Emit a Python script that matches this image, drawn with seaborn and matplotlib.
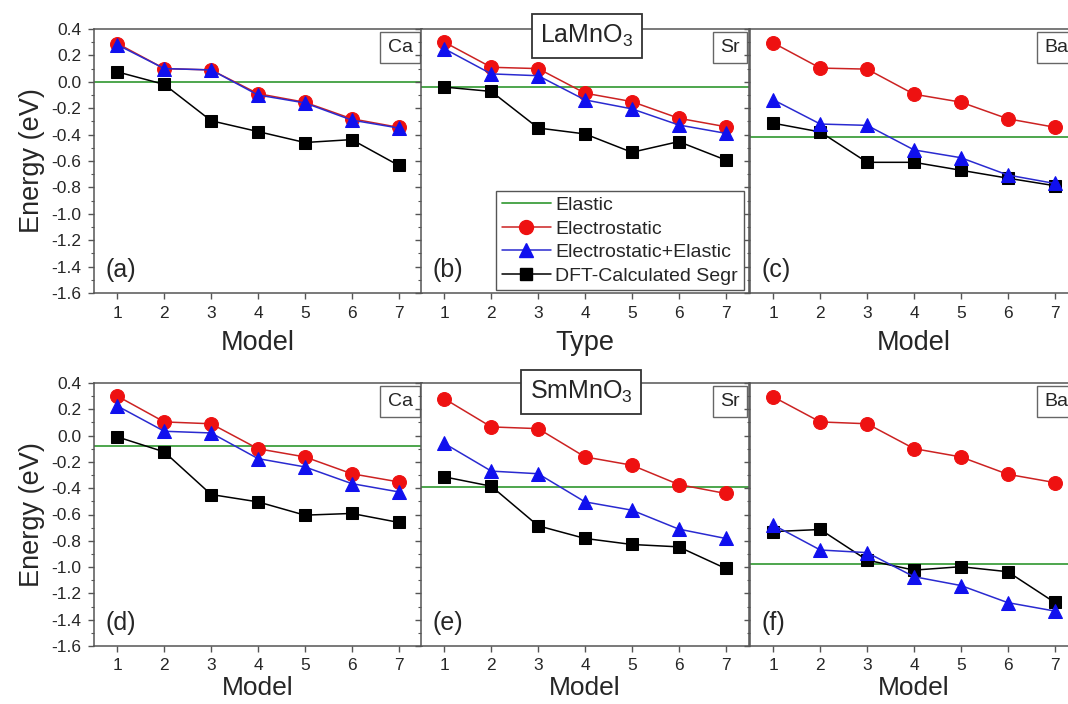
import numpy as np
import pandas as pd
import matplotlib
matplotlib.use("Agg")
import matplotlib.pyplot as plt
from matplotlib.lines import Line2D
from matplotlib.ticker import MultipleLocator, FormatStrFormatter
import seaborn as sns

# ---------------- data ----------------
models = [1, 2, 3, 4, 5, 6, 7]
series_names = ["Elastic", "Electrostatic", "Electrostatic+Elastic", "DFT-Calculated Segr"]

# LaMnO3
la_ca_elastic = 0.0
la_ca_electrostatic = [0.29, 0.10, 0.09, -0.09, -0.155, -0.28, -0.345]
la_ca_elec_elastic = [0.28, 0.10, 0.09, -0.10, -0.16, -0.29, -0.35]
la_ca_dft = [0.075, -0.02, -0.295, -0.377, -0.46, -0.438, -0.633]

la_sr_elastic = -0.04
la_sr_electrostatic = [0.30, 0.11, 0.10, -0.086, -0.15, -0.276, -0.34]
la_sr_elec_elastic = [0.25, 0.06, 0.046, -0.137, -0.205, -0.327, -0.39]
la_sr_dft = [-0.04, -0.073, -0.35, -0.395, -0.534, -0.453, -0.592]

la_ba_elastic = -0.42
la_ba_electrostatic = [0.294, 0.104, 0.096, -0.094, -0.154, -0.28, -0.344]
la_ba_elec_elastic = [-0.137, -0.32, -0.33, -0.516, -0.575, -0.706, -0.77]
la_ba_dft = [-0.314, -0.38, -0.61, -0.61, -0.67, -0.73, -0.787]

# SmMnO3
sm_ca_elastic = -0.08
sm_ca_electrostatic = [0.30, 0.104, 0.09, -0.10, -0.162, -0.29, -0.352]
sm_ca_elec_elastic = [0.225, 0.033, 0.02, -0.175, -0.238, -0.365, -0.428]
sm_ca_dft = [-0.01, -0.124, -0.448, -0.504, -0.605, -0.592, -0.66]

sm_sr_elastic = -0.392
sm_sr_electrostatic = [0.28, 0.066, 0.053, -0.162, -0.225, -0.372, -0.44]
sm_sr_elec_elastic = [-0.06, -0.27, -0.29, -0.504, -0.567, -0.711, -0.782]
sm_sr_dft = [-0.314, -0.385, -0.686, -0.782, -0.828, -0.846, -1.01]

sm_ba_elastic = -0.98
sm_ba_electrostatic = [0.294, 0.104, 0.09, -0.099, -0.162, -0.294, -0.357]
sm_ba_elec_elastic = [-0.68, -0.87, -0.89, -1.073, -1.14, -1.27, -1.334]
sm_ba_dft = [-0.73, -0.714, -0.947, -1.023, -0.997, -1.035, -1.268]

panel_letters = ["(a)", "(b)", "(c)", "(d)", "(e)", "(f)"]
dopants = ["Ca", "Sr", "Ba", "Ca", "Sr", "Ba"]
xlabels = ["Model", "Type", "Model", "Model", "Model", "Model"]
hosts = ["LaMnO$_3$", "SmMnO$_3$"]

panels = [
    (la_ca_elastic, la_ca_electrostatic, la_ca_elec_elastic, la_ca_dft),
    (la_sr_elastic, la_sr_electrostatic, la_sr_elec_elastic, la_sr_dft),
    (la_ba_elastic, la_ba_electrostatic, la_ba_elec_elastic, la_ba_dft),
    (sm_ca_elastic, sm_ca_electrostatic, sm_ca_elec_elastic, sm_ca_dft),
    (sm_sr_elastic, sm_sr_electrostatic, sm_sr_elec_elastic, sm_sr_dft),
    (sm_ba_elastic, sm_ba_electrostatic, sm_ba_elec_elastic, sm_ba_dft),
]

# ---------------- style ----------------
sns.set_style("ticks")
plt.rcParams["font.family"] = ["Liberation Sans", "DejaVu Sans"]
plt.rcParams["axes.unicode_minus"] = False
plt.rcParams["mathtext.fontset"] = "custom"
plt.rcParams["mathtext.rm"] = "Liberation Sans"

GREEN = "#3f9f3f"
RED = "#ee1111"
RED_LINE = "#cc2222"
BLUE = "#1010ee"
BLUE_LINE = "#2a2ad0"
BLACK = "#000000"
SPINE = "#555555"

MS_CIRC, MS_TRI, MS_SQ = 10, 10.5, 8.5

fig = plt.figure(figsize=(10.68, 7.04), dpi=100)

W, H = 1068.0, 704.0
lefts_px = [94, 421, 750]
width_px = 328
rows = [(29, 293), (383, 646)]

axes = []
for r, (top, bot) in enumerate(rows):
    for c, lp in enumerate(lefts_px):
        ax = fig.add_axes([lp / W, 1 - bot / H, width_px / W, (bot - top) / H])
        axes.append(ax)

for i, ax in enumerate(axes):
    el, es, ese, dft = panels[i]
    ax.axhline(el, color=GREEN, lw=1.3, zorder=1)
    sns.lineplot(x=models, y=dft, ax=ax, color=BLACK, marker="s", markersize=MS_SQ,
                 markeredgecolor=BLACK, lw=1.1, zorder=2)
    sns.lineplot(x=models, y=es, ax=ax, color=RED_LINE, marker="o", markersize=MS_CIRC,
                 markerfacecolor=RED, markeredgecolor=RED, lw=1.1, zorder=3)
    sns.lineplot(x=models, y=ese, ax=ax, color=BLUE_LINE, marker="^", markersize=MS_TRI,
                 markerfacecolor=BLUE, markeredgecolor=BLUE, lw=1.1, zorder=4)

    ax.set_xlim(0.5, 7.5)
    ax.set_ylim(-1.6, 0.4)
    ax.set_xticks(models)
    ax.yaxis.set_major_locator(MultipleLocator(0.2))
    ax.yaxis.set_minor_locator(MultipleLocator(0.1))
    ax.yaxis.set_major_formatter(FormatStrFormatter("%.1f"))
    ax.tick_params(axis="both", which="major", direction="out", length=4, width=1,
                   color=SPINE, labelsize=12.5, pad=5)
    ax.tick_params(axis="y", which="minor", direction="out", length=2.5, width=0.8, color=SPINE)
    for sp in ax.spines.values():
        sp.set_color(SPINE)
        sp.set_linewidth(1.1)
    if i % 3 != 0:
        ax.tick_params(axis="y", which="both", labelleft=False)
        ax.set_ylabel("")
    else:
        ax.set_ylabel("Energy (eV)", fontsize=19.5, labelpad=5)
    if i < 3:
        ax.set_xlabel(xlabels[i], fontsize=19.5, labelpad=7)
    else:
        ax.set_xlabel(xlabels[i], fontsize=19, labelpad=2)

    ax.text(0.035, 0.04, panel_letters[i], transform=ax.transAxes, fontsize=18,
            ha="left", va="bottom")
    ax.text(0.972, 0.962, dopants[i], transform=ax.transAxes, fontsize=14,
            ha="right", va="top",
            bbox=dict(boxstyle="square,pad=0.38", fc="white", ec="#666666", lw=1.0))

# host labels
fig.text(587 / W, 1 - 36 / H, hosts[0], fontsize=18, ha="center", va="center",
         bbox=dict(boxstyle="square,pad=0.35", fc="white", ec="#333333", lw=1.3))
fig.text(581 / W, 1 - 392 / H, hosts[1], fontsize=18, ha="center", va="center",
         bbox=dict(boxstyle="square,pad=0.35", fc="white", ec="#333333", lw=1.3))

# legend in panel (b)
handles = [
    Line2D([], [], color=GREEN, lw=1.3),
    Line2D([], [], color=RED_LINE, lw=1.1, marker="o", markersize=MS_CIRC,
           markerfacecolor=RED, markeredgecolor=RED),
    Line2D([], [], color=BLUE_LINE, lw=1.1, marker="^", markersize=MS_TRI,
           markerfacecolor=BLUE, markeredgecolor=BLUE),
    Line2D([], [], color=BLACK, lw=1.1, marker="s", markersize=MS_SQ),
]
leg = axes[1].legend(handles, series_names, loc="lower right",
                     bbox_to_anchor=(0.985, 0.01), borderaxespad=0, fontsize=14,
                     handlelength=2.5, handletextpad=0.25, labelspacing=0.3,
                     frameon=True, fancybox=False, borderpad=0.3)
leg.get_frame().set_edgecolor("#555555")
leg.get_frame().set_linewidth(1.0)
leg.get_frame().set_alpha(1)
leg.set_zorder(10)

fig.savefig("out.png", dpi=100)
